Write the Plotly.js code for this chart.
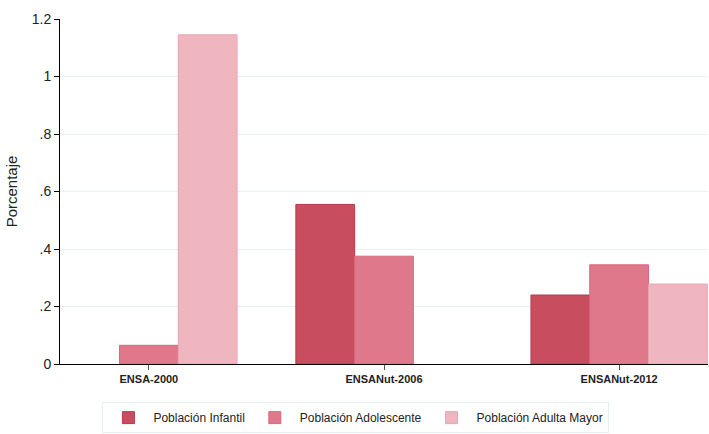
<!DOCTYPE html>
<html>
<head>
<meta charset="utf-8">
<script src="https://cdn.plot.ly/plotly-3.0.1.min.js"></script>
<style>html,body{margin:0;padding:0;background:#fff;}#chart{width:709px;height:434px;}</style>
</head>
<body>
<div id="chart"></div>
<script>
const categories = ["ENSA-2000", "ENSANut-2006", "ENSANut-2012"];
const seriesNames = ["Población Infantil", "Población Adolescente", "Población Adulta Mayor"];
const infantil = [null, 0.555, 0.24];
const adolescente = [0.065, 0.375, 0.345];
const adultaMayor = [1.145, null, 0.278];
const yTickVals = [0, 0.2, 0.4, 0.6, 0.8, 1, 1.2];
const yTickText = ["0", ".2", ".4", ".6", ".8", "1", "1.2"];

const fills = ["#c84d5f", "#e0788c", "#efb6c0"];
const lines = ["#b93a4e", "#d9687e", "#e8a5b1"];
const values = [infantil, adolescente, adultaMayor];

const traces = values.map((v, i) => ({
  type: "bar",
  name: seriesNames[i],
  x: categories,
  y: v,
  marker: {color: fills[i], line: {color: lines[i], width: 1}},
  hoverinfo: "skip"
}));

const layout = {
  width: 709, height: 434,
  margin: {l: 60, r: 1, t: 19, b: 70},
  paper_bgcolor: "#ffffff",
  plot_bgcolor: "#ffffff",
  font: {family: "Liberation Sans, Arial, sans-serif", color: "#222"},
  barmode: "group",
  bargap: 0.25,
  bargroupgap: 0,
  xaxis: {
    type: "category",
    range: [-0.378, 2.378],
    showline: true, linecolor: "#000", linewidth: 1,
    ticks: "outside", ticklen: 5, tickcolor: "#555", tickwidth: 1,
    tickfont: {size: 11, color: "#222", weight: "bold"},
    showgrid: false, zeroline: false
  },
  yaxis: {
    range: [0, 1.2],
    tickvals: yTickVals, ticktext: yTickText,
    showline: true, linecolor: "#000", linewidth: 1,
    ticks: "outside", ticklen: 5, tickcolor: "#000",
    tickfont: {size: 14, color: "#222"},
    showgrid: true, gridcolor: "#eaf0f2", gridwidth: 1,
    zeroline: false,
    title: {text: "Porcentaje", font: {size: 15, color: "#222"}, standoff: 10}
  },
  legend: {
    orientation: "h",
    xref: "container", yref: "container",
    x: 0.502, xanchor: "center",
    y: 0.002, yanchor: "bottom",
    bordercolor: "#e6eeee", borderwidth: 1,
    bgcolor: "#ffffff",
    font: {size: 12, color: "#222"},
    itemwidth: 40,
    traceorder: "normal"
  },
  showlegend: true
};

Plotly.newPlot("chart", traces, layout, {displayModeBar: false, staticPlot: true});
</script>
</body>
</html>
